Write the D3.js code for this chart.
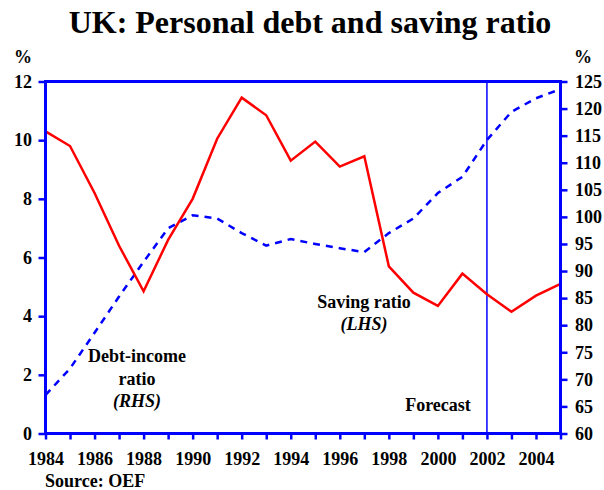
<!DOCTYPE html>
<html>
<head>
<meta charset="utf-8">
<script src="https://cdn.jsdelivr.net/npm/d3@7"></script>
<style>
  html, body { margin: 0; padding: 0; background: #fff; }
  svg { display: block; }
  text { font-family: "Liberation Serif", "Times New Roman", serif; font-weight: bold; fill: #000; }
</style>
</head>
<body>
<svg id="chart" width="604" height="490"></svg>
<script>
// Years on the horizontal axis
const years = [1984, 1985, 1986, 1987, 1988, 1989, 1990, 1991, 1992, 1993, 1994,
               1995, 1996, 1997, 1998, 1999, 2000, 2001, 2002, 2003, 2004, 2005];
// Household saving ratio, % (left-hand scale)
const savingRatio = [10.3, 9.8, 8.2, 6.4, 4.85, 6.6, 8.0, 10.05, 11.45, 10.85, 9.3,
                     9.95, 9.1, 9.45, 5.7, 4.8, 4.35, 5.45, 4.75, 4.15, 4.7, 5.1];
// Household debt-to-income ratio, % (right-hand scale)
const debtIncome = [67.1, 72.0, 78.6, 85.3, 91.7, 97.9, 100.3, 99.7, 97.0, 94.7, 95.9,
                    95.0, 94.2, 93.5, 97.0, 99.7, 104.4, 107.4, 114.2, 119.4, 121.9, 123.6];
// Tick values
const xTickYears = [1984, 1986, 1988, 1990, 1992, 1994, 1996, 1998, 2000, 2002, 2004];
const leftTicks = [0, 2, 4, 6, 8, 10, 12];
const rightTicks = [60, 65, 70, 75, 80, 85, 90, 95, 100, 105, 110, 115, 120, 125];
const forecastYear = 2002;

const svg = d3.select("#chart");
const blue = "#0000ff", red = "#ff0000";
const serif = '"Liberation Serif", "Times New Roman", serif';
const m = { left: 45.5, right: 560.5, top: 81.5, bottom: 433.5 };

const x = d3.scaleLinear().domain([1984, 2005]).range([m.left, m.right]);
const yL = d3.scaleLinear().domain([0, 12]).range([m.bottom, m.top]);
const yR = d3.scaleLinear().domain([60, 125]).range([m.bottom, m.top]);

// Title
svg.append("text").attr("x", 310).attr("y", 33)
  .attr("text-anchor", "middle").style("font-size", "32px")
  .text("UK: Personal debt and saving ratio");

// Unit labels
svg.append("text").attr("x", 23).attr("y", 63).attr("text-anchor", "middle")
  .style("font-size", "18px").text("%");
svg.append("text").attr("x", 583).attr("y", 63).attr("text-anchor", "middle")
  .style("font-size", "18px").text("%");

// Forecast divider
svg.append("line")
  .attr("x1", x(forecastYear)).attr("x2", x(forecastYear))
  .attr("y1", m.top).attr("y2", m.bottom)
  .attr("stroke", blue).attr("stroke-width", 1.5);

// Series lines
const lineL = d3.line().x((d, i) => x(years[i])).y(d => yL(d));
const lineR = d3.line().x((d, i) => x(years[i])).y(d => yR(d));

svg.append("path").datum(debtIncome).attr("d", lineR)
  .attr("fill", "none").attr("stroke", blue).attr("stroke-width", 2.5)
  .attr("stroke-dasharray", "7,6");
svg.append("path").datum(savingRatio).attr("d", lineL)
  .attr("fill", "none").attr("stroke", red).attr("stroke-width", 2.5)
  .attr("stroke-linejoin", "miter");

// Axes
function styleAxis(g) {
  g.attr("font-family", serif).attr("font-size", 18);
  g.select(".domain").remove();
  g.selectAll(".tick line").attr("stroke", blue).attr("stroke-width", 2.5);
  g.selectAll(".tick text").style("font-size", "18px")
    .style("font-family", serif)
    .style("font-weight", "bold").attr("fill", "#000");
}

svg.append("g").attr("transform", `translate(${m.left},0)`)
  .call(d3.axisLeft(yL).tickValues(leftTicks).tickSize(7).tickPadding(6.5).tickFormat(d3.format("d")))
  .call(styleAxis);

svg.append("g").attr("transform", `translate(${m.right},0)`)
  .call(d3.axisRight(yR).tickValues(rightTicks).tickSize(7).tickPadding(7.5).tickFormat(d3.format("d")))
  .call(styleAxis);

svg.append("g").attr("transform", `translate(0,${m.bottom})`)
  .call(d3.axisBottom(x).tickValues(years).tickSize(6).tickPadding(13)
    .tickFormat(d => xTickYears.includes(d) ? String(d) : ""))
  .call(styleAxis);

// Frame lines: left, right, top, bottom
svg.append("path")
  .attr("d", `M${m.left},${m.bottom}V${m.top}H${m.right}V${m.bottom}H${m.left}Z`)
  .attr("fill", "none").attr("stroke", blue).attr("stroke-width", 3);

// Annotations
function label(lines, cx, y0, dy) {
  lines.forEach((l, i) => {
    svg.append("text").attr("x", cx).attr("y", y0 + i * dy)
      .attr("text-anchor", "middle").style("font-size", "18px")
      .style("font-style", l.italic ? "italic" : "normal")
      .text(l.t);
  });
}
label([{ t: "Debt-income" }, { t: "ratio" }, { t: "(RHS)", italic: true }], 137, 362, 22.5);
label([{ t: "Saving ratio" }, { t: "(LHS)", italic: true }], 364, 308, 22);
label([{ t: "Forecast" }], 438, 411, 0);

// Source
svg.append("text").attr("x", 45).attr("y", 487).style("font-size", "18px")
  .text("Source: OEF");
</script>
</body>
</html>
